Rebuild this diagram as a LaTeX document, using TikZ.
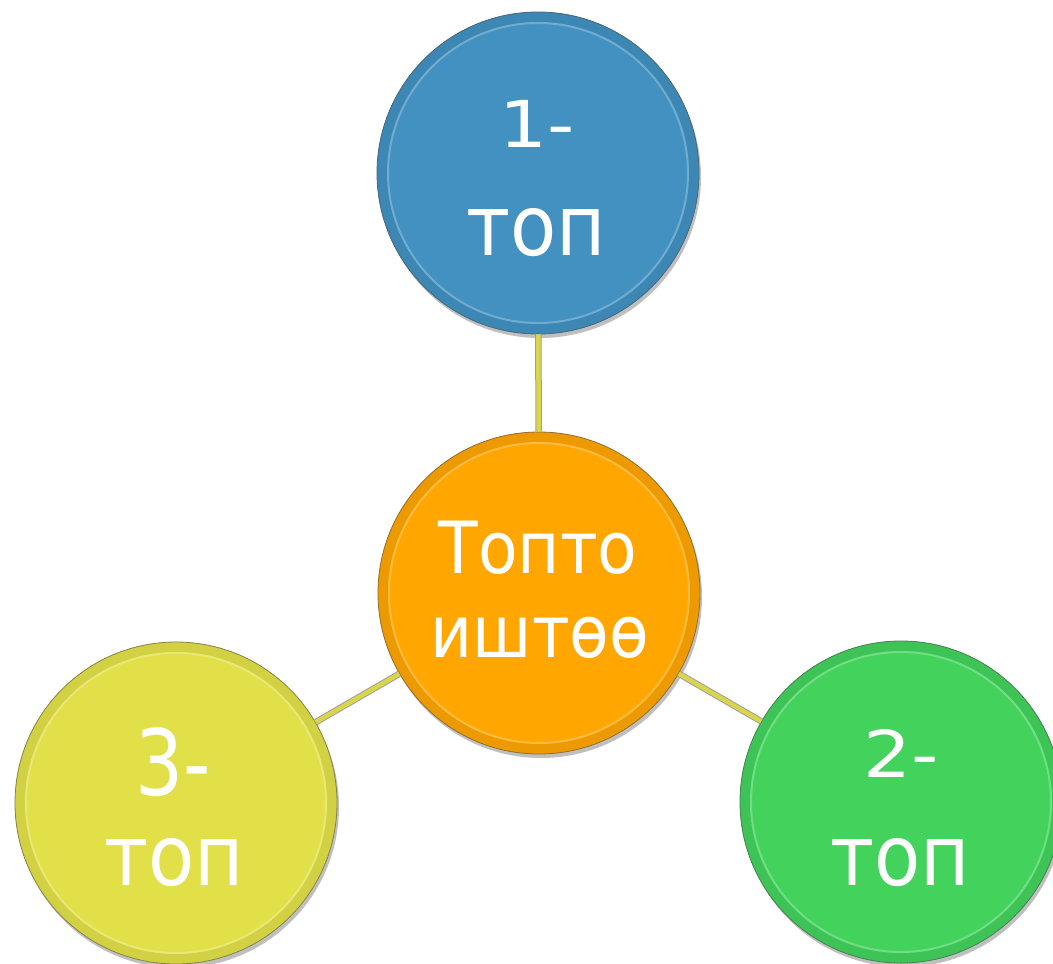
\documentclass[tikz,border=0pt]{standalone}
\usepackage{fontspec}
\newfontfamily\dejavu{DejaVu Sans}
\usetikzlibrary{shadows}
\definecolor{cblue}{RGB}{66,145,193}
\definecolor{corange}{RGB}{255,166,0}
\definecolor{cyellow}{RGB}{226,224,72}
\definecolor{cgreen}{RGB}{67,211,92}
\definecolor{cline}{RGB}{218,214,76}
\newcommand{\condtxt}[2][1]{\scalebox{0.9}[#1]{#2}}
\tikzset{
  disc/.style={circle, minimum size=322pt, inner sep=0pt, fill=#1, draw=#1!45!black!80, line width=0.8pt,
    drop shadow={shadow xshift=2pt, shadow yshift=-4pt, opacity=0.25, fill=black},
    path picture={
      \fill[#1!93!black] (path picture bounding box.center) circle (161pt);
      \fill[#1] (path picture bounding box.center) circle (151pt);
      \draw[#1!55!white, line width=2pt, opacity=0.55] (path picture bounding box.center) circle (150pt);
    }},
  lbl/.style={text=white, inner sep=0pt, anchor=base, font=\dejavu\fontsize{84}{84}\selectfont},
  clbl/.style={text=white, inner sep=0pt, anchor=base, font=\dejavu\fontsize{72}{72}\selectfont},
  conn/.style={draw=gray!75, line width=1pt, double=cline, double distance=4.5pt},
}
\begin{document}
\begin{tikzpicture}[x=1pt, y=-1pt]
\useasboundingbox (0,0) rectangle (1053,964);
\fill[white] (0,0) rectangle (1053,964);
\node[disc=cblue] (t) at (538,173) {};
\node[disc=corange] (c) at (539,593) {};
\node[disc=cyellow] (l) at (176,803) {};
\node[disc=cgreen] (r) at (901,802) {};
\draw[conn] (t) -- (c);
\draw[conn] (c) -- (l);
\draw[conn] (c) -- (r);
\node[lbl] (t1) at (537,147) {\condtxt[0.77]{1-}};
\node[lbl] (t2) at (536,255) {\condtxt{топ}};
\node[lbl] (l1) at (173,795) {\condtxt[1.09]{3-}};
\node[lbl] (l2) at (174,885) {\condtxt{топ}};
\node[lbl] (r1) at (901,777) {\condtxt[0.77]{2-}};
\node[lbl] (r2) at (900,885) {\condtxt{топ}};
\node[clbl] (c1) at (538,573) {\condtxt{Топто}};
\node[clbl] (c2) at (540,657) {\condtxt{иштөө}};
\end{tikzpicture}
\end{document}
